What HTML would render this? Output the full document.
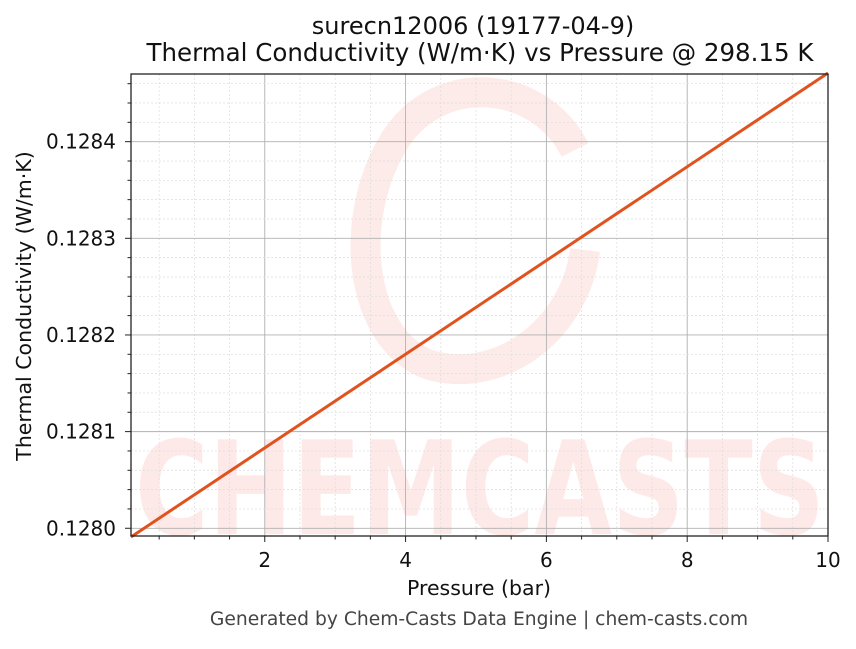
<!DOCTYPE html>
<html><head><meta charset="utf-8"><style>
body{margin:0;background:#fff;font-family:"Liberation Sans","DejaVu Sans",sans-serif;}
svg text{font-family:"DejaVu Sans","Liberation Sans",sans-serif;}
</style></head><body>
<svg id="chart" width="856" height="644" xmlns="http://www.w3.org/2000/svg">
<rect width="856" height="644" fill="#fff"/>
<g id="wm" opacity="0.1">
<path d="M575,150 C540,80 440,70 395,140 C345,220 360,340 430,365 C500,385 575,330 585,250" fill="none" stroke="#f03a2a" stroke-width="30"/>
<text x="480" y="534" text-anchor="middle" font-size="130" font-weight="bold" fill="#f03a2a" textLength="690" lengthAdjust="spacingAndGlyphs">CHEMCASTS</text>
</g>
<g id="grid"></g>
<g id="series"></g>
<rect x="131" y="74" width="697" height="462" fill="none" stroke="#222" stroke-width="1.3"/>
<g id="ticks"></g>
<text x="473" y="34" text-anchor="middle" font-size="24" fill="#111">surecn12006 (19177-04-9)</text>
<text x="480" y="61" text-anchor="middle" font-size="24.5" fill="#111">Thermal Conductivity (W/m·K) vs Pressure @ 298.15 K</text>
<text x="479" y="595" text-anchor="middle" font-size="20.5" fill="#111">Pressure (bar)</text>
<text transform="translate(31,306) rotate(-90)" text-anchor="middle" font-size="20.5" fill="#111">Thermal Conductivity (W/m·K)</text>
<text x="479" y="625" text-anchor="middle" font-size="18.7" fill="#444">Generated by Chem-Casts Data Engine | chem-casts.com</text>
</svg>
<script>
const pressures=[0.1,10];
const conductivity=[0.127991,0.128471];
const xTicks=[2,4,6,8,10];
const yTicks=[0.1280,0.1281,0.1282,0.1283,0.1284];
const yTickLabels=["0.1280","0.1281","0.1282","0.1283","0.1284"];
const xMin=0.1,xMax=10,yMin=0.127992,yMax=0.12847;
const L=131,R=828,T=74,B=536;
const sx=v=>L+(v-xMin)/(xMax-xMin)*(R-L);
const sy=v=>B-(v-yMin)/(yMax-yMin)*(B-T);
const NS="http://www.w3.org/2000/svg";
function mk(tag,attrs,parent){const e=document.createElementNS(NS,tag);for(const k in attrs)e.setAttribute(k,attrs[k]);parent.appendChild(e);return e;}
const grid=document.getElementById('grid'),ticks=document.getElementById('ticks'),series=document.getElementById('series');
for(let v=0.5;v<=xMax+1e-9;v+=0.5){const x=sx(v);if(x<L)continue;const major=Math.abs(v/2-Math.round(v/2))<1e-9;
 const g=mk('line',{x1:x,x2:x,y1:T,y2:B,stroke:major?'#b0b0b0':'#dcdcdc','stroke-width':major?0.9:0.7,'stroke-dasharray':major?'':'2,2'},grid);
 
 
 const t=mk('line',{x1:x,x2:x,y1:B,y2:B+(major?6:3.5),stroke:'#222','stroke-width':1},ticks);
 
 }
for(let i=-1;i<=25;i++){const v=0.1280+i*0.00002;const y=sy(v);if(y<T-0.5||y>B+0.5)continue;const major=i%5===0;
 const g=mk('line',{x1:L,x2:R,y1:y,y2:y,stroke:major?'#b0b0b0':'#dcdcdc','stroke-width':major?0.9:0.7,'stroke-dasharray':major?'':'2,2'},grid);
 
 
 const t=mk('line',{x1:L-(major?6:3.5),x2:L,y1:y,y2:y,stroke:'#222','stroke-width':1},ticks);
 
 }
xTicks.forEach(v=>{const t=mk('text',{x:sx(v),y:B+31,'text-anchor':'middle','font-size':20,fill:'#111'},ticks);t.textContent=v;
 
 });
yTicks.forEach((v,i)=>{const t=mk('text',{x:L-15,y:sy(v)+7,'text-anchor':'end','font-size':20,fill:'#111'},ticks);t.textContent=yTickLabels[i];
 
 });
const pts=pressures.map((p,i)=>sx(p)+','+sy(conductivity[i])).join(' ');
const pl=mk('polyline',{points:pts,fill:'none',stroke:'#e0531f','stroke-width':3},series);


</script>
</body></html>
